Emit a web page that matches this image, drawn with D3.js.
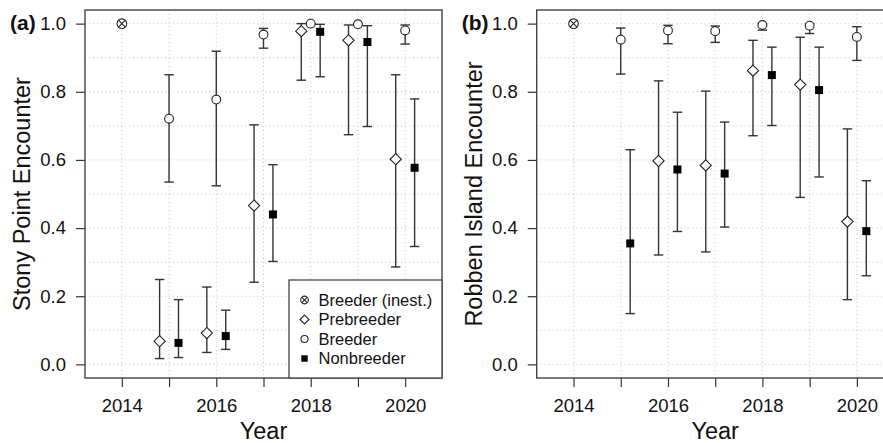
<!DOCTYPE html>
<html><head><meta charset="utf-8">
<script src="https://cdn.jsdelivr.net/npm/d3@7"></script>
<style>
html,body{margin:0;padding:0;background:#fff;}
svg{display:block;font-family:"Liberation Sans",Arial,Helvetica,sans-serif;}
</style></head>
<body><svg id="chart" width="883" height="443"></svg>
<script>
// ---------- data ----------
const years = [2014, 2015, 2016, 2017, 2018, 2019, 2020];
const groups = ["Breeder (inest.)", "Prebreeder", "Breeder", "Nonbreeder"];
const yTicks = [0, 0.2, 0.4, 0.6, 0.8, 1.0];
const xTickLabels = [2014, 2016, 2018, 2020];

// Stony Point (a)
const spInestEst = [1.0, null, null, null, null, null, null];
const spPreEst = [null, 0.068, 0.092, 0.466, 0.978, 0.951, 0.602];
const spPreLo  = [null, 0.017, 0.035, 0.241, 0.834, 0.674, 0.286];
const spPreHi  = [null, 0.249, 0.227, 0.703, 1.000, 0.996, 0.850];
const spBreEst = [null, 0.721, 0.777, 0.968, 1.000, 0.998, 0.980];
const spBreLo  = [null, 0.535, 0.524, 0.928, 0.998, 0.995, 0.940];
const spBreHi  = [null, 0.850, 0.919, 0.986, 1.000, 1.000, 0.996];
const spNonEst = [null, 0.063, 0.083, 0.440, 0.976, 0.946, 0.577];
const spNonLo  = [null, 0.020, 0.044, 0.302, 0.844, 0.698, 0.346];
const spNonHi  = [null, 0.190, 0.159, 0.586, 0.998, 0.994, 0.779];

// Robben Island (b)
const rbInestEst = [1.0, null, null, null, null, null, null];
const rbPreEst = [null, null, 0.597, 0.584, 0.862, 0.821, 0.419];
const rbPreLo  = [null, null, 0.321, 0.330, 0.671, 0.490, 0.190];
const rbPreHi  = [null, null, 0.832, 0.802, 0.951, 0.960, 0.691];
const rbBreEst = [null, 0.953, 0.980, 0.978, 0.996, 0.994, 0.961];
const rbBreLo  = [null, 0.852, 0.941, 0.945, 0.981, 0.971, 0.892];
const rbBreHi  = [null, 0.987, 0.995, 0.993, 1.000, 1.000, 0.991];
const rbNonEst = [null, 0.355, 0.572, 0.560, 0.849, 0.805, 0.391];
const rbNonLo  = [null, 0.149, 0.390, 0.403, 0.701, 0.550, 0.260];
const rbNonHi  = [null, 0.630, 0.740, 0.711, 0.931, 0.931, 0.539];

// ---------- drawing ----------
const svg = d3.select("#chart");
const dodge = {"Breeder (inest.)": 0, "Prebreeder": -0.2, "Breeder": 0, "Nonbreeder": 0.2};
const ink = "#222";
const lineCol = "#333";

function symbol(g, type, x, y, s) {
  if (type === "Prebreeder") {
    const r = 5.6 * s;
    g.append("path").attr("d", `M${x},${y - r}L${x + r},${y}L${x},${y + r}L${x - r},${y}Z`)
      .attr("fill", "#fff").attr("stroke", ink).attr("stroke-width", 1.1);
  } else if (type === "Breeder") {
    g.append("circle").attr("cx", x).attr("cy", y).attr("r", 4.4 * s)
      .attr("fill", "#fff").attr("stroke", ink).attr("stroke-width", 1.1);
  } else if (type === "Nonbreeder") {
    const h = 4 * s;
    g.append("rect").attr("x", x - h).attr("y", y - h).attr("width", 2 * h).attr("height", 2 * h)
      .attr("fill", "#000");
  } else {
    const r = 4.8 * s, d = r * 0.7071;
    g.append("circle").attr("cx", x).attr("cy", y).attr("r", r)
      .attr("fill", "#fff").attr("stroke", ink).attr("stroke-width", 1.1);
    g.append("path").attr("d", `M${x - d},${y - d}L${x + d},${y + d}M${x - d},${y + d}L${x + d},${y - d}`)
      .attr("stroke", ink).attr("stroke-width", 1.1);
  }
}

function panel(opts) {
  const {left, right, top, bottom, label, ytitle, series, legend} = opts;
  const x = d3.scaleLinear().domain([2013.22, 2020.78]).range([left, right]);
  const y = d3.scaleLinear().domain([-0.04, 1.04]).range([bottom, top]);
  const g = svg.append("g");

  // grid
  const grid = g.append("g").attr("stroke", "#bdbdbd").attr("stroke-width", 0.9)
    .attr("stroke-dasharray", "1,3");
  years.forEach(yr => grid.append("line").attr("x1", x(yr)).attr("x2", x(yr))
    .attr("y1", top).attr("y2", bottom));
  d3.range(0, 11).forEach(i => grid.append("line").attr("x1", left).attr("x2", right)
    .attr("y1", y(i / 10)).attr("y2", y(i / 10)));

  // axes
  const ax = g.append("g").attr("transform", `translate(0,${bottom})`)
    .call(d3.axisBottom(x).tickValues(years).tickSize(9).tickPadding(12)
      .tickFormat(d => xTickLabels.includes(d) ? String(d) : ""));
  ax.select(".domain").remove();
  ax.selectAll(".tick line").attr("stroke", lineCol).attr("stroke-width", 1.2);
  ax.selectAll(".tick text").attr("fill", "#111").attr("font-size", 18.5)
    .attr("font-family", "'Liberation Sans',Arial,sans-serif");

  const ay = g.append("g").attr("transform", `translate(${left},0)`)
    .call(d3.axisLeft(y).tickValues(yTicks).tickSize(9).tickPadding(10)
      .tickFormat(d3.format(".1f")));
  ay.select(".domain").remove();
  ay.selectAll(".tick line").attr("stroke", lineCol).attr("stroke-width", 1.2);
  ay.selectAll(".tick text").attr("fill", "#111").attr("font-size", 18.5)
    .attr("font-family", "'Liberation Sans',Arial,sans-serif");

  // titles
  g.append("text").attr("x", (left + right) / 2).attr("y", 439).attr("text-anchor", "middle")
    .attr("font-size", 23.5).attr("fill", "#111").text("Year");
  g.append("text").attr("transform", `translate(${left - 55},${(top + bottom) / 2}) rotate(-90)`)
    .attr("text-anchor", "middle").attr("font-size", 23.5).attr("fill", "#111").text(ytitle);
  g.append("text").attr("x", left - 75).attr("y", 30).attr("font-size", 21)
    .attr("font-weight", "bold").attr("fill", "#111").text(label);

  // error bars
  const eb = g.append("g").attr("stroke", lineCol).attr("stroke-width", 1.4).attr("fill", "none");
  series.forEach(s => {
    if (!s.lo) return;
    years.forEach((yr, i) => {
      if (s.est[i] == null) return;
      const cx = x(yr + dodge[s.name]);
      eb.append("line").attr("x1", cx).attr("x2", cx).attr("y1", y(s.lo[i])).attr("y2", y(s.hi[i]));
      [s.lo[i], s.hi[i]].forEach(v => eb.append("line").attr("x1", cx - 4.7).attr("x2", cx + 4.7)
        .attr("y1", y(v)).attr("y2", y(v)));
    });
  });
  // points
  const pts = g.append("g");
  series.forEach(s => {
    years.forEach((yr, i) => {
      if (s.est[i] == null) return;
      symbol(pts, s.name, x(yr + dodge[s.name]), y(s.est[i]), 1);
    });
  });

  // frame
  g.append("rect").attr("x", left).attr("y", top).attr("width", right - left).attr("height", bottom - top)
    .attr("fill", "none").attr("stroke", "#444").attr("stroke-width", 1.4);

  if (legend) {
    const lx = 289, ly = 280;
    const lg = g.append("g");
    lg.append("rect").attr("x", lx).attr("y", ly).attr("width", right - lx).attr("height", bottom - ly)
      .attr("fill", "#fff").attr("stroke", "#444").attr("stroke-width", 1.3);
    groups.forEach((name, i) => {
      const cy = ly + 20 + i * 19.5;
      symbol(lg, name, lx + 15.5, cy, 0.8);
      lg.append("text").attr("x", lx + 29.5).attr("y", cy).attr("dy", "0.35em")
        .attr("font-size", 16.5).attr("fill", "#111").text(name);
    });
  }
}

panel({
  left: 85, right: 442, top: 10, bottom: 378, label: "(a)", ytitle: "Stony Point Encounter", legend: true,
  series: [
    {name: "Breeder (inest.)", est: spInestEst},
    {name: "Prebreeder", est: spPreEst, lo: spPreLo, hi: spPreHi},
    {name: "Breeder", est: spBreEst, lo: spBreLo, hi: spBreHi},
    {name: "Nonbreeder", est: spNonEst, lo: spNonLo, hi: spNonHi}
  ]
});
panel({
  left: 536.7, right: 893.7, top: 10, bottom: 378, label: "(b)", ytitle: "Robben Island Encounter", legend: false,
  series: [
    {name: "Breeder (inest.)", est: rbInestEst},
    {name: "Prebreeder", est: rbPreEst, lo: rbPreLo, hi: rbPreHi},
    {name: "Breeder", est: rbBreEst, lo: rbBreLo, hi: rbBreHi},
    {name: "Nonbreeder", est: rbNonEst, lo: rbNonLo, hi: rbNonHi}
  ]
});
</script></body></html>
